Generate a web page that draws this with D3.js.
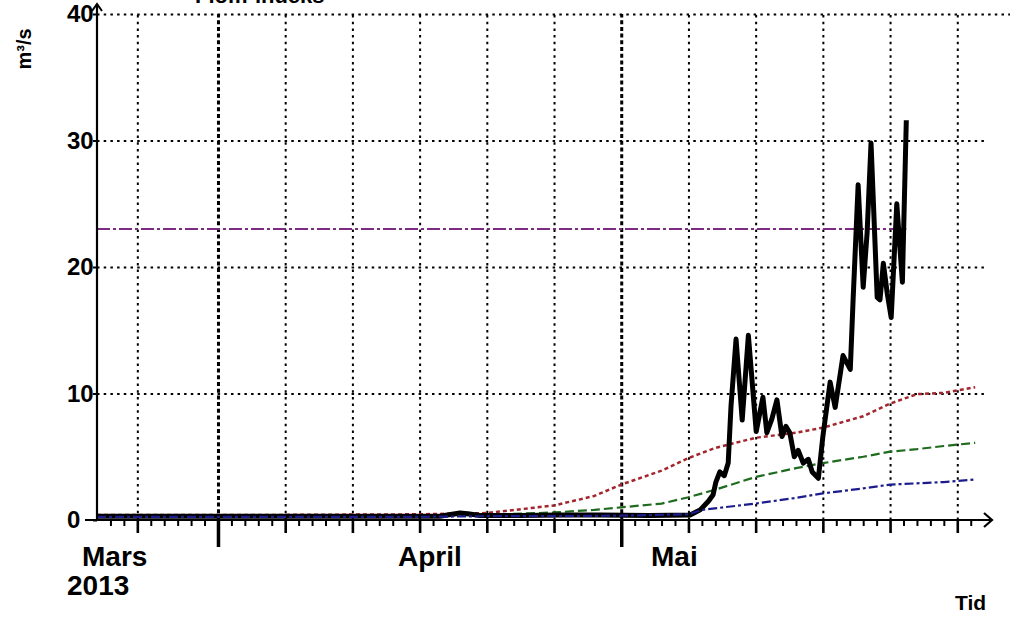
<!DOCTYPE html>
<html><head><meta charset="utf-8">
<script src="https://cdn.jsdelivr.net/npm/d3@7"></script>
<style>
body{margin:0;background:#fff}
svg{display:block}
text{font-family:"Liberation Sans",Arial,Helvetica,sans-serif;font-weight:bold;fill:#000}
</style>
</head><body>
<svg id="c" width="1010" height="620"></svg>
<script>
// ---------------- data ----------------
const axisStart = "2013-03-23T00:00";
const axisEnd = "2013-05-28T14:00";
const yTicks = [0, 10, 20, 30, 40];
const monthLabels = ["Mars", "April", "Mai"];
const yearLabel = "2013";
const titleText = "Flom-indeks";
const yAxisTitle = "m³/s";
const xAxisTitle = "Tid";

const obsDates = ["2013-03-23T00:00","2013-03-30T16:00","2013-04-07T00:00","2013-04-14T00:00","2013-04-17T12:00","2013-04-18T10:00","2013-04-19T00:00","2013-04-19T14:00","2013-04-20T12:00","2013-04-23T12:00","2013-04-26T10:00","2013-04-29T10:00","2013-05-03T02:00","2013-05-06T03:00","2013-05-06T21:00","2013-05-07T12:00","2013-05-07T20:00","2013-05-08T01:00","2013-05-08T08:00","2013-05-08T16:00","2013-05-08T23:00","2013-05-09T04:00","2013-05-09T13:00","2013-05-10T00:00","2013-05-10T11:00","2013-05-11T01:00","2013-05-11T13:00","2013-05-11T20:00","2013-05-12T05:00","2013-05-12T14:00","2013-05-12T23:00","2013-05-13T06:00","2013-05-13T13:00","2013-05-13T21:00","2013-05-14T04:00","2013-05-14T13:00","2013-05-14T22:00","2013-05-15T05:00","2013-05-15T16:00","2013-05-16T00:00","2013-05-16T13:00","2013-05-16T22:00","2013-05-17T12:00","2013-05-18T01:00","2013-05-18T06:00","2013-05-18T15:00","2013-05-19T00:00","2013-05-19T07:00","2013-05-19T14:00","2013-05-20T01:00","2013-05-20T06:00","2013-05-20T12:00","2013-05-20T19:00","2013-05-21T02:00","2013-05-21T12:00","2013-05-21T22:00","2013-05-22T05:00"];
const obsValues = [0.3,0.3,0.3,0.3,0.3,0.45,0.55,0.5,0.35,0.35,0.4,0.4,0.35,0.4,0.8,1.5,2.0,3.0,3.8,3.5,4.5,9.0,14.3,7.9,14.6,7.0,9.7,6.9,8.0,9.5,6.6,7.4,6.9,5.0,5.5,4.5,4.8,3.8,3.3,6.6,10.9,8.9,13.0,11.9,17.4,26.5,18.4,22.7,29.8,17.6,17.4,20.3,17.9,16.0,25.0,18.8,31.6];

const modelDates = ["2013-03-23T00:00","2013-04-05T00:00","2013-04-16T00:00","2013-04-21T00:00","2013-04-26T00:00","2013-04-29T00:00","2013-05-01T00:00","2013-05-04T00:00","2013-05-06T00:00","2013-05-08T00:00","2013-05-11T00:00","2013-05-14T00:00","2013-05-16T00:00","2013-05-19T00:00","2013-05-21T00:00","2013-05-23T00:00","2013-05-25T00:00","2013-05-27T08:00"];
const redValues = [0.4,0.4,0.45,0.55,1.15,1.9,2.8,3.9,4.9,5.7,6.5,6.9,7.3,8.2,9.2,9.95,10.05,10.5];
const greenValues = [0.35,0.35,0.35,0.4,0.6,0.8,1.0,1.3,1.8,2.4,3.4,4.1,4.5,5.0,5.4,5.6,5.85,6.1];

const blueDates = ["2013-03-23T00:00","2013-04-05T00:00","2013-04-16T00:00","2013-04-21T00:00","2013-04-26T00:00","2013-05-01T00:00","2013-05-06T00:00","2013-05-07T00:00","2013-05-11T00:00","2013-05-14T00:00","2013-05-16T00:00","2013-05-19T00:00","2013-05-21T00:00","2013-05-23T00:00","2013-05-25T00:00","2013-05-27T08:00"];
const blueValues = [0.25,0.25,0.25,0.3,0.3,0.35,0.45,0.8,1.3,1.75,2.1,2.5,2.8,2.9,3.0,3.2];

const floodDates = ["2013-03-23T00:00","2013-05-22T05:00"];
const floodValues = [23, 23];

// ---------------- drawing ----------------
const parse = d3.utcParse("%Y-%m-%dT%H:%M");
const svg = d3.select("#c");
const x = d3.scaleUtc().domain([parse(axisStart), parse(axisEnd)]).range([97, 992]);
const y = d3.scaleLinear().domain([0, 40]).range([520, 14]);

const days = d3.utcDay.range(d3.utcDay.offset(parse(axisStart), 1), parse("2013-05-28T00:00"));
const majorDays = days.filter(d => [6,11,16,21,26].includes(d.getUTCDate()));
const monthDays = days.filter(d => d.getUTCDate() === 1);

// vertical grid
svg.append("g").attr("transform", "translate(0,520)")
  .call(d3.axisBottom(x).tickValues(majorDays).tickSize(-(y(0) - y(40))).tickFormat(""))
  .call(g => g.select(".domain").remove())
  .selectAll("line").attr("stroke", "#000").attr("stroke-width", 2).attr("stroke-dasharray", "2.5,4.2");
svg.append("g").attr("transform", "translate(0,520)")
  .call(d3.axisBottom(x).tickValues(monthDays).tickSize(-(y(0) - y(40))).tickFormat(""))
  .call(g => g.select(".domain").remove())
  .selectAll("line").attr("stroke", "#000").attr("stroke-width", 3).attr("stroke-dasharray", "4,2.7");

// horizontal grid
svg.append("g").attr("transform", "translate(97,0)")
  .call(d3.axisLeft(y).tickValues(yTicks.filter(v => v > 0 && v < 40)).tickSize(-(985 - 97)).tickFormat(""))
  .call(g => g.select(".domain").remove())
  .selectAll("line").attr("stroke", "#000").attr("stroke-width", 2).attr("stroke-dasharray", "2.5,4.2");
svg.append("g").attr("transform", "translate(97,0)")
  .call(d3.axisLeft(y).tickValues([40]).tickSize(-(1010 - 97)).tickFormat(""))
  .call(g => g.select(".domain").remove())
  .selectAll("line").attr("stroke", "#000").attr("stroke-width", 2).attr("stroke-dasharray", "2.5,4.2");

// series
const line = d3.line().x(d => x(d[0])).y(d => y(d[1]));
function series(dates, values, color, width, dash) {
  const data = dates.map((d, i) => [parse(d), values[i]]);
  svg.append("path").datum(data).attr("d", line)
    .attr("fill", "none").attr("stroke", color).attr("stroke-width", width)
    .attr("stroke-dasharray", dash).attr("stroke-linejoin", "round");
}
series(floodDates, floodValues, "#7d2a82", 2, "13,3,3,3");
series(redValues.map((v, i) => modelDates[i]), redValues, "#a3262e", 2.5, "4,3");
series(greenValues.map((v, i) => modelDates[i]), greenValues, "#1f6b1f", 2.2, "9,4");
series(obsDates, obsValues, "#000", 5, null);
series(blueDates, blueValues, "#1c1c8c", 2.2, "9,3,3,3");

// x axis ticks
function xTicks(vals, size, w) {
  svg.append("g").attr("transform", "translate(0,520)")
    .call(d3.axisBottom(x).tickValues(vals).tickSize(size).tickFormat(""))
    .call(g => g.select(".domain").remove())
    .selectAll("line").attr("stroke", "#000").attr("stroke-width", w);
}
xTicks(days.filter(d => !majorDays.includes(d) && !monthDays.includes(d)), 6, 2);
xTicks(majorDays, 13, 2.6);
xTicks(monthDays, 27, 3.5);

// axis lines with arrows
svg.append("line").attr("x1", 85).attr("x2", 992).attr("y1", 520).attr("y2", 520).attr("stroke", "#000").attr("stroke-width", 2.2);
svg.append("path").attr("d", "M984,513L992,520L984,527").attr("fill", "none").attr("stroke", "#000").attr("stroke-width", 2.2);
svg.append("line").attr("x1", 97).attr("x2", 97).attr("y1", 521).attr("y2", 4).attr("stroke", "#000").attr("stroke-width", 2.2);
svg.append("path").attr("d", "M92,11L97,4L102,11").attr("fill", "none").attr("stroke", "#000").attr("stroke-width", 2);

// y axis labels
const ya = svg.append("g").attr("transform", "translate(97,0)")
  .call(d3.axisLeft(y).tickValues(yTicks).tickSize(4));
ya.select(".domain").remove();
ya.selectAll("line").attr("stroke", "#000").attr("stroke-width", 2);
ya.selectAll("text").attr("x", -30).attr("text-anchor", "start")
  .style("font-size", "24px").style("font-weight", "bold")
  .style("font-family", '"Liberation Sans",Arial,sans-serif').attr("fill", "#000");

// month labels
const monthX = [82, 398, 651];
svg.selectAll("text.month").data(monthLabels).enter().append("text").attr("class", "month")
  .attr("x", (d, i) => monthX[i]).attr("y", 566).style("font-size", "28px").text(d => d);
svg.append("text").attr("x", 67).attr("y", 595).style("font-size", "28px").text(yearLabel);

// titles
svg.append("text").attr("x", 955).attr("y", 610).style("font-size", "21px").text(xAxisTitle);
svg.append("text").attr("transform", "translate(31,49) rotate(-90)").attr("text-anchor", "middle")
  .style("font-size", "20px").text(yAxisTitle);
svg.append("text").attr("x", 195).attr("y", 3).style("font-size", "22px").text(titleText);
</script>
</body></html>
